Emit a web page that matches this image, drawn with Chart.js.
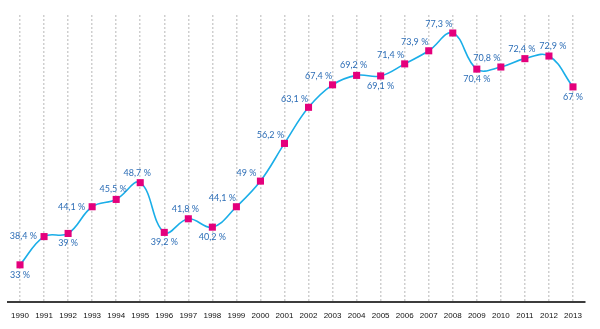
<!DOCTYPE html>
<html>
<head>
<meta charset="utf-8">
<script src="https://cdn.jsdelivr.net/npm/chart.js@4.4.1/dist/chart.umd.min.js"></script>
<style>
  html, body { margin: 0; padding: 0; background: #ffffff; }
  #wrap { width: 600px; height: 329px; }
</style>
</head>
<body>
<div id="wrap"><canvas id="c" width="600" height="329"></canvas></div>
<script>
// Yearly share, in percent
const years = [1990, 1991, 1992, 1993, 1994, 1995, 1996, 1997, 1998, 1999, 2000, 2001,
               2002, 2003, 2004, 2005, 2006, 2007, 2008, 2009, 2010, 2011, 2012, 2013];
const shares = [33, 38.4, 39, 44.1, 45.5, 48.7, 39.2, 41.8, 40.2, 44.1, 49, 56.2,
                63.1, 67.4, 69.2, 69.1, 71.4, 73.9, 77.3, 70.4, 70.8, 72.4, 72.9, 67];

// Where each value label sits relative to its marker
const labelSide = ['below', 'left', 'below', 'left', 'above', 'above', 'below', 'above',
                   'below', 'aboveLeft', 'aboveLeft', 'aboveLeft', 'aboveLeft', 'aboveLeft',
                   'above', 'below', 'aboveLeft', 'aboveLeft', 'aboveLeft', 'below',
                   'aboveLeft', 'above', 'aboveRight', 'below'];

const LABEL_COLOR = '#2c6db6';
const LINE_COLOR = '#1aaee8';
const MARK_COLOR = '#e4007c';

function fmtPct(v) {
  return String(v).replace('.', ',') + ' %';
}

// Draws "xx,x %" next to every marker
const valueLabels = {
  id: 'valueLabels',
  afterDatasetsDraw(chart) {
    const ctx = chart.ctx;
    const meta = chart.getDatasetMeta(0);
    ctx.save();
    ctx.font = '9px Lato, "DejaVu Sans", sans-serif';
    ctx.fillStyle = LABEL_COLOR;
    ctx.textBaseline = 'middle';
    meta.data.forEach((pt, i) => {
      const txt = fmtPct(shares[i]);
      let x = pt.x, y = pt.y;
      ctx.textAlign = 'center';
      switch (labelSide[i]) {
        case 'below': y += 10; break;
        case 'above': x -= 3; y -= 10; break;
        case 'aboveLeft': x -= 14; y -= 8.5; break;
        case 'aboveRight': x += 4; y -= 10; break;
        case 'left': ctx.textAlign = 'right'; x -= 7; break;
      }
      ctx.fillText(txt, x, y);
    });
    ctx.restore();
  }
};

new Chart(document.getElementById('c'), {
  type: 'line',
  data: {
    labels: years.map(String),
    datasets: [{
      data: shares,
      borderColor: LINE_COLOR,
      borderWidth: 1.6,
      tension: 0.4,
      fill: false,
      pointStyle: 'rect',
      pointRadius: 5,
      pointBackgroundColor: MARK_COLOR,
      pointBorderColor: MARK_COLOR,
      pointBorderWidth: 0,
      clip: false
    }]
  },
  options: {
    responsive: false,
    animation: false,
    events: [],
    layout: { padding: { left: 8, right: 15, top: 15, bottom: 0 } },
    plugins: { legend: { display: false }, tooltip: { enabled: false } },
    scales: {
      x: {
        type: 'category',
        offset: true,
        afterFit(scale) { scale.height = 27; },
        grid: {
          offset: false,
          color: '#cfcfcf',
          lineWidth: 1.5,
          drawTicks: false
        },
        border: { display: true, color: '#3c3c3c', width: 2, dash: [2, 2] },
        ticks: {
          color: '#111111',
          padding: 9,
          maxRotation: 0,
          autoSkip: false,
          font: { family: '"Liberation Sans", Arial, sans-serif', size: 8 }
        }
      },
      y: {
        display: false,
        min: 25.9,
        max: 80.74
      }
    }
  },
  plugins: [valueLabels]
});
</script>
</body>
</html>
